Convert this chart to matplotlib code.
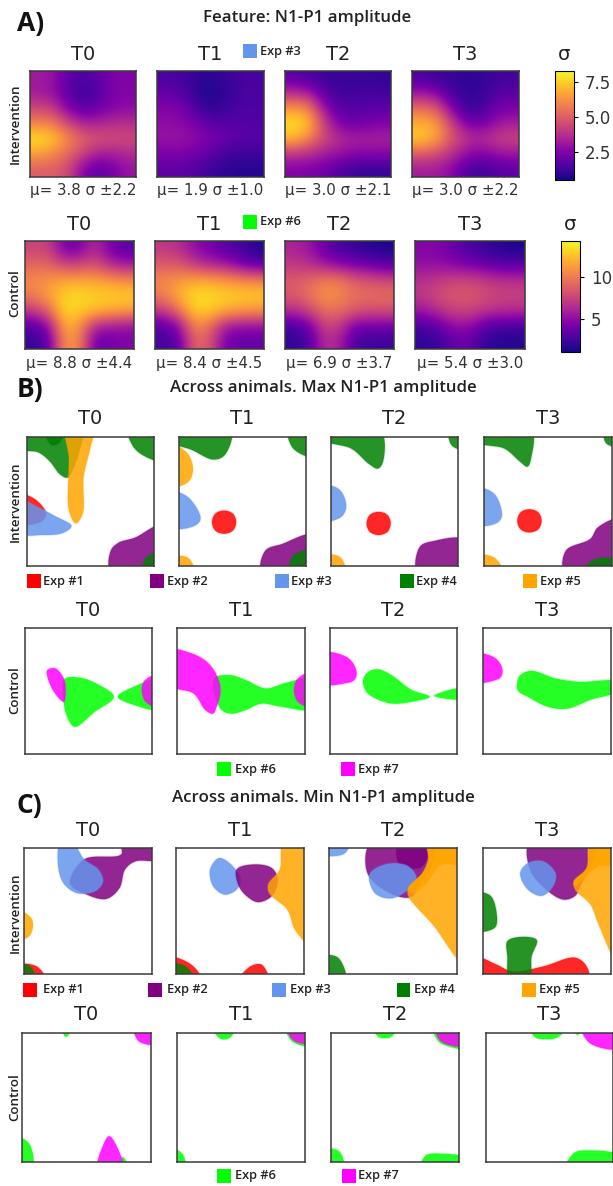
import matplotlib
matplotlib.use('Agg')
import matplotlib.pyplot as plt
import numpy as np
from matplotlib.patches import Polygon, Rectangle

W, H = 613, 1186

times = ['T0', 'T1', 'T2', 'T3']

# Panel A heatmaps, sigma on a coarse grid (rows top to bottom)
interv_t0 = [[3.2, 3.0, 1.8, 1.5, 1.8, 2.5, 2.5],
             [3.2, 3.0, 1.8, 1.2, 1.5, 2.5, 2.5],
             [4.5, 4.2, 2.5, 1.8, 2.2, 2.6, 2.8],
             [6.0, 6.0, 4.5, 3.5, 3.5, 3.8, 3.8],
             [8.0, 7.5, 6.2, 5.2, 4.8, 4.6, 4.5],
             [6.5, 6.0, 5.2, 4.2, 3.2, 3.2, 3.6],
             [5.0, 5.0, 4.5, 2.5, 1.8, 2.3, 3.0]]
interv_t1 = [[1.5, 1.4, 1.0, 0.9, 1.1, 1.4, 1.4],
             [2.0, 1.8, 1.0, 0.7, 1.0, 1.4, 1.5],
             [2.6, 2.4, 1.5, 0.9, 1.2, 1.5, 1.5],
             [2.8, 2.8, 2.4, 1.8, 1.7, 1.7, 1.6],
             [3.0, 3.0, 2.8, 2.5, 2.0, 1.8, 1.7],
             [2.4, 2.4, 2.2, 1.7, 1.3, 1.2, 1.2],
             [1.8, 1.8, 1.6, 1.2, 0.9, 0.8, 0.8]]
interv_t2 = [[1.8, 1.5, 1.2, 1.1, 1.1, 1.1, 1.0],
             [3.8, 3.5, 1.8, 1.3, 1.3, 1.4, 1.3],
             [6.5, 6.3, 3.2, 1.8, 1.6, 1.7, 1.8],
             [8.0, 7.5, 4.5, 2.5, 2.2, 2.4, 2.6],
             [7.0, 6.0, 4.5, 3.8, 3.4, 3.4, 3.4],
             [3.8, 3.6, 3.2, 3.0, 2.6, 2.6, 2.6],
             [2.5, 2.4, 2.2, 1.6, 1.2, 1.0, 1.1]]
interv_t3 = [[1.5, 1.2, 1.1, 1.0, 1.0, 1.2, 1.3],
             [3.2, 2.8, 1.5, 1.0, 1.1, 1.6, 1.8],
             [5.5, 5.2, 2.8, 1.2, 1.2, 2.2, 2.4],
             [7.0, 6.8, 4.6, 2.5, 2.3, 3.0, 3.4],
             [7.5, 6.8, 5.0, 4.0, 3.6, 4.2, 4.4],
             [4.8, 4.5, 3.8, 2.8, 2.4, 2.8, 3.0],
             [3.2, 3.2, 2.8, 1.6, 1.2, 1.6, 1.8]]
control_t0 = [[7.5, 7.5, 4.0, 4.0, 6.5, 4.0, 3.0],
              [9.0, 9.0, 7.5, 7.5, 8.0, 6.0, 5.5],
              [10.5, 11.0, 11.5, 11.5, 11.5, 11.0, 10.5],
              [10.0, 11.5, 13.0, 13.5, 13.0, 13.0, 13.0],
              [7.0, 9.0, 13.5, 13.0, 12.5, 12.0, 11.5],
              [3.0, 4.5, 12.0, 11.0, 6.0, 5.5, 5.0],
              [2.0, 3.0, 11.0, 10.5, 3.5, 4.0, 4.5]]
control_t1 = [[7.0, 6.5, 5.0, 4.0, 3.0, 2.5, 1.5],
              [8.5, 8.5, 7.0, 6.0, 5.5, 4.0, 3.0],
              [10.5, 11.0, 11.5, 11.5, 11.0, 10.5, 10.0],
              [10.0, 12.0, 13.5, 13.5, 13.0, 13.0, 13.0],
              [7.0, 9.5, 13.0, 13.0, 12.0, 11.5, 11.0],
              [3.0, 4.5, 10.5, 9.5, 5.5, 5.0, 5.0],
              [2.5, 3.0, 9.0, 8.5, 4.0, 3.5, 3.5]]
control_t2 = [[6.0, 5.5, 3.5, 2.5, 2.0, 1.5, 1.2],
              [7.0, 6.5, 5.5, 4.5, 4.0, 3.5, 3.0],
              [8.5, 9.0, 10.0, 10.0, 8.5, 8.0, 7.5],
              [8.5, 9.5, 11.0, 10.5, 9.5, 9.5, 9.5],
              [6.5, 7.5, 9.5, 9.5, 8.5, 8.0, 8.0],
              [2.5, 3.5, 7.5, 7.0, 4.0, 4.0, 4.0],
              [1.8, 2.5, 6.5, 6.0, 2.5, 2.2, 2.2]]
control_t3 = [[4.5, 4.5, 3.5, 2.5, 2.0, 1.5, 1.2],
              [5.0, 5.0, 4.5, 4.0, 3.5, 3.0, 3.0],
              [6.5, 7.0, 7.5, 7.5, 7.0, 6.5, 6.5],
              [7.0, 8.0, 8.5, 8.5, 8.0, 7.5, 7.5],
              [5.5, 6.5, 7.5, 7.5, 7.0, 6.5, 6.5],
              [2.5, 3.5, 5.0, 5.0, 3.0, 2.5, 2.5],
              [1.8, 2.0, 3.5, 3.5, 1.8, 1.5, 1.5]]

interv_stats = ['μ= 3.8 σ ±2.2', 'μ= 1.9 σ ±1.0', 'μ= 3.0 σ ±2.1', 'μ= 3.0 σ ±2.2']
control_stats = ['μ= 8.8 σ ±4.4', 'μ= 8.4 σ ±4.5', 'μ= 6.9 σ ±3.7', 'μ= 5.4 σ ±3.0']

# Panels B and C: region outlines per experiment, in percent of the electrode
# grid (x to the right, y down), drawn in order
max_interv_t0 = [
    (4, [(0, 0), (43, 0), (41.5, 10), (37, 23), (32, 31.5), (26, 29), (18, 19), (9, 12), (0, 9)]),
    (4, [(14, 0), (29, 0), (25, 5), (19, 6)]),
    (4, [(80, 0), (100, 0), (100, 18), (91, 14), (83, 6.5)]),
    (5, [(31, 0), (52, 0), (50, 8), (44.6, 31), (44, 59), (38.5, 67), (33, 57), (33, 15.5)]),
    (1, [(0, 45), (6, 48), (15, 59), (12, 65), (0, 67)]),
    (3, [(0, 49), (8, 54), (21.5, 61), (35, 69), (28, 74.5), (12, 76), (0, 74.5)]),
    (2, [(66, 100), (66, 88), (72, 82), (85, 78), (100, 69), (100, 100)]),
    (4, [(91, 100), (94, 93), (100, 90), (100, 100)]),
]
max_interv_t1 = [
    (4, [(0, 0), (41, 0), (36, 14), (27, 17.5), (10, 10), (0, 4)]),
    (4, [(86, 0), (100, 0), (100, 15), (90, 9)]),
    (5, [(0, 6.5), (7, 13), (11, 26), (7, 35), (0, 38)]),
    (3, [(0, 43), (7, 46.5), (17, 63), (13, 68.5), (0, 70)]),
    (1, [(35.5, 57), (42.5, 59.5), (45, 66), (42.5, 72.5), (35.5, 75), (28.5, 72.5), (26, 66), (28.5, 59.5)]),
    (2, [(65, 100), (68, 88), (81, 83), (100, 76), (100, 100)]),
    (4, [(87, 100), (90, 92), (100, 88), (100, 100)]),
    (5, [(0, 93.5), (7, 93.5), (12, 100), (0, 100)]),
]
max_interv_t2 = [
    (4, [(0, 0), (39, 0), (41, 19), (37, 24.5), (30, 21), (16, 9), (0, 2.5)]),
    (4, [(93, 0), (100, 0), (100, 9.5), (95, 6.5)]),
    (3, [(0, 38), (7, 41), (12, 54), (8, 62), (0, 64.5)]),
    (1, [(37.5, 58), (44.5, 60.5), (47, 67), (44.5, 73.5), (37.5, 76), (30.5, 73.5), (28, 67), (30.5, 60.5)]),
    (2, [(68, 100), (70, 85), (81, 80.6), (100, 79.6), (100, 100)]),
    (5, [(0, 92), (7, 93), (11.5, 100), (0, 100)]),
]
max_interv_t3 = [
    (4, [(0, 0), (37, 0), (37, 15.5), (34, 23), (28, 19), (16, 9), (0, 4)]),
    (4, [(94, 0), (100, 0), (100, 7), (95.5, 5)]),
    (3, [(0, 40), (8, 44), (14, 61), (10, 66.7), (0, 67.7)]),
    (1, [(35.5, 56), (42.5, 58.5), (45, 65), (42.5, 71.5), (35.5, 74), (28.5, 71.5), (26, 65), (28.5, 58.5)]),
    (2, [(63, 100), (64, 88), (83, 79), (89, 70), (100, 64), (100, 100)]),
    (4, [(77, 100), (86, 95), (100, 95.6), (100, 100)]),
    (5, [(0, 92), (8, 93.5), (15, 100), (0, 100)]),
]
max_control_t0 = [
    (6, [(31, 40.6), (42.5, 39.3), (56, 44), (70, 54.6), (55, 66.5), (39, 78.4), (33, 70), (30.5, 58.6)]),
    (6, [(73, 54.6), (85.5, 46.7), (100, 41.4), (100, 64), (85.5, 61)]),
    (7, [(17.5, 33.5), (23.7, 32), (30.5, 40), (32, 50.6), (30.5, 58.6), (23.7, 52), (18, 40)]),
    (7, [(100, 37.5), (94.5, 41.4), (92, 49), (95, 58.6), (100, 62.5)]),
]
max_control_t1 = [
    (6, [(29, 40), (42, 37.5), (54, 41.4), (69.4, 48), (85, 43.5), (100, 41), (100, 64), (81.6, 62.5),
         (66, 60), (54, 65), (42, 68), (34, 64)]),
    (7, [(0, 17.7), (11, 20), (23.5, 27), (31, 37.5), (34, 49), (31, 62.5), (28, 68), (22, 65), (13, 52), (0, 45.4)]),
    (7, [(100, 35.6), (94.5, 40), (91.4, 49), (94.5, 58.6), (100, 62.5)]),
]
max_control_t2 = [
    (7, [(0, 20), (10, 21.6), (17.5, 27), (21, 36), (19, 41.4), (11.4, 44), (0, 44)]),
    (6, [(26, 41.4), (30, 35), (37.5, 32.7), (48.6, 37.5), (64, 49), (78.5, 54.6),
         (64, 58.6), (48.6, 60), (36, 56), (28.6, 50.6)]),
    (6, [(82, 53.8), (100, 48), (100, 56)]),
]
max_control_t3 = [
    (7, [(0, 21), (9, 23.5), (15, 32), (14, 38.8), (7.6, 42), (0, 42.7)]),
    (6, [(26.6, 44), (29, 37.5), (38, 34), (56.6, 40), (75, 42.7), (100, 42.7), (100, 50), (84, 57),
         (66, 64), (50.5, 62.5), (35, 54.6), (27.5, 50)]),
]
min_interv_t0 = [
    (2, [(47, 9), (76, 5), (76, 0), (100, 0), (100, 9), (87, 10.6), (79, 17), (74.5, 32), (64, 40.5), (47, 36), (36, 28)]),
    (3, [(28.5, 0), (37.7, 0), (47, 9), (58, 17), (61.7, 26.5), (56, 34), (42, 36), (31.6, 29), (27, 17)]),
    (5, [(0, 49.5), (5.5, 55.5), (7, 62), (4, 70), (0, 73)]),
    (1, [(0, 93), (10, 94), (17, 100), (0, 100)]),
    (4, [(0, 93), (5, 94), (8, 100), (0, 100)]),
]
min_interv_t1 = [
    (3, [(26.6, 17), (33.6, 8), (43, 13), (50.5, 25), (47.4, 33), (38, 37), (29, 30.4)]),
    (2, [(47.4, 17), (61, 13), (75, 16), (79.5, 25), (75, 38), (64, 43), (55, 38), (49, 30)]),
    (5, [(84, 0), (100, 0), (100, 76.7), (93, 65), (87, 49), (73, 36), (72, 29), (81, 17)]),
    (1, [(0, 87), (12, 92.6), (20, 100), (0, 100)]),
    (4, [(0, 92.6), (7.6, 94), (14, 100), (0, 100)]),
    (1, [(49.5, 100), (58, 94), (67, 92.6), (72, 100)]),
]
min_interv_t2 = [
    (3, [(0, 0), (16, 0), (12, 4.5), (0, 5)]),
    (2, [(33, 0), (82, 0), (80, 14), (70, 30), (64, 39), (48, 36), (30, 20)]),
    (2, [(54.6, 0), (78, 0), (76, 10), (70, 16), (54.6, 12)]),
    (3, [(31.6, 21), (44, 13), (61, 14), (68.4, 24), (62, 33), (48.5, 40), (36, 36)]),
    (5, [(77.6, 0), (100, 0), (100, 91), (82, 62), (62, 38), (62, 32), (73, 20), (77.6, 9)]),
    (5, [(77.6, 0), (100, 0), (100, 13), (88, 13), (76, 28), (65, 36), (62, 32), (73, 20), (77.6, 9)]),
    (4, [(0, 86), (7, 87), (13, 100), (0, 100)]),
]
min_interv_t3 = [
    (2, [(36.7, 0), (88, 0), (87, 8), (77, 28), (72, 38), (63, 41), (50.5, 34), (36.7, 17)]),
    (3, [(29, 20), (35, 12), (47, 10.6), (56.6, 20), (55, 30), (46, 38), (35, 33)]),
    (5, [(84, 0), (100, 0), (100, 91), (90, 60), (84, 45), (72, 33), (71, 26.5), (81, 16)]),
    (5, [(84, 0), (100, 0), (100, 13), (90, 14.5), (78, 25), (72, 30), (71, 26.5), (81, 16)]),
    (4, [(0, 36), (6, 38), (11, 57), (9, 63.5), (0, 65.6)]),
    (1, [(0, 87), (10.7, 92.6), (23, 98), (47, 94), (72, 87), (81, 94), (82, 100), (0, 100)]),
    (4, [(19, 74), (29, 70.6), (42, 73), (38, 86), (36, 100), (21, 100), (19, 86)]),
]
min_control_t0 = [
    (6, [(32, 0), (36.6, 0), (36, 1.5), (34, 3), (32.5, 1.5)]),
    (7, [(87, 0), (100, 0), (100, 8.3), (90.6, 6.5)]),
    (6, [(0, 81), (5.5, 85.7), (8, 100), (0, 100)]),
    (6, [(78, 96), (83, 100), (78, 100)]),
    (7, [(59, 100), (62.5, 88), (67.6, 80), (73.5, 88), (78, 100)]),
]
min_control_t1 = [
    (6, [(28, 0), (46, 0), (42, 3), (36.6, 5), (32, 3)]),
    (6, [(85, 0), (100, 0), (100, 9.6), (90, 6.5)]),
    (7, [(86, 0), (100, 0), (100, 7.8), (91, 5.7)]),
    (6, [(0, 89.6), (4, 93.5), (6.4, 100), (0, 100)]),
]
min_control_t2 = [
    (6, [(33, 0), (52, 0), (47, 3), (42, 4), (37, 3)]),
    (6, [(80, 0), (100, 0), (100, 11.7), (92, 10.4), (84, 6.5)]),
    (7, [(82, 0), (100, 0), (100, 9.6), (86, 6.5)]),
    (6, [(0, 90), (6.7, 92), (9.7, 100), (0, 100)]),
    (6, [(70, 100), (74, 95), (86, 93.5), (100, 97), (100, 100)]),
]
min_control_t3 = [
    (6, [(34, 0), (64, 0), (56, 3.5), (46.6, 4.7), (39, 3.5)]),
    (6, [(68, 0), (76, 0), (72, 1.5)]),
    (7, [(75.5, 0), (100, 0), (100, 11.7), (81.6, 7.8)]),
    (6, [(63, 100), (69.4, 93), (81.6, 91), (100, 95), (100, 100)]),
    (6, [(0, 97.4), (3, 100), (0, 100)]),
]

exp_colors = {1: 'red', 2: 'purple', 3: 'cornflowerblue', 4: 'green', 5: 'orange', 6: 'lime', 7: 'magenta'}

plt.rcParams['font.family'] = 'DejaVu Sans'
fig = plt.figure(figsize=(W / 100, H / 100), dpi=100)


def add_box(x0, x1, y0, y1):
    # pixel box, y measured from the top
    return fig.add_axes([x0 / W, 1 - y1 / H, (x1 - x0) / W, (y1 - y0) / H])


def put(x, y, s, **kw):
    kw.setdefault('ha', 'center')
    kw.setdefault('va', 'center')
    fig.text(x / W, 1 - y / H, s, **kw)


def frame(ax):
    ax.set_xticks([])
    ax.set_yticks([])
    for sp in ax.spines.values():
        sp.set_color('#3a3a3a')
        sp.set_linewidth(1.1)


def smooth(points):
    # closed centripetal Catmull-Rom through the outline points;
    # points on the border are pushed out so the axes clip them
    p = np.array(points, dtype=float)
    p[p <= 0] = -5
    p[p >= 100] = 105
    out = []
    n = len(p)
    for i in range(n):
        p0, p1, p2, p3 = p[i - 1], p[i], p[(i + 1) % n], p[(i + 2) % n]
        t1 = np.hypot(*(p1 - p0)) ** 0.5
        t2 = t1 + np.hypot(*(p2 - p1)) ** 0.5
        t3 = t2 + np.hypot(*(p3 - p2)) ** 0.5
        for t in np.linspace(t1, t2, 12, endpoint=False):
            a1 = ((t1 - t) * p0 + t * p1) / t1
            a2 = ((t2 - t) * p1 + (t - t1) * p2) / (t2 - t1)
            a3 = ((t3 - t) * p2 + (t - t2) * p3) / (t3 - t2)
            b1 = ((t2 - t) * a1 + t * a2) / t2
            b2 = ((t3 - t) * a2 + (t - t1) * a3) / (t3 - t1)
            out.append(((t2 - t) * b1 + (t - t1) * b2) / (t2 - t1))
    return np.array(out)


def heat_row(grids, boxes, y0, y1, vmin, vmax, stats, stat_y):
    for grid, (x0, x1), name, st in zip(grids, boxes, times, stats):
        ax = add_box(x0, x1, y0, y1)
        im = ax.imshow(np.array(grid), cmap='plasma', vmin=vmin, vmax=vmax,
                       interpolation='bicubic', aspect='auto')
        frame(ax)
        put((x0 + x1) / 2, y0 - 17, name, fontsize=14, color='#222222')
        put((x0 + x1) / 2, stat_y, st, fontsize=10.8, color='#333333')
    return im


def blob_row(panels, boxes, y0, y1):
    for blobs, (x0, x1), name in zip(panels, boxes, times):
        ax = add_box(x0, x1, y0, y1)
        ax.set_xlim(0, 100)
        ax.set_ylim(100, 0)
        for exp, outline in blobs:
            shape = smooth(outline)
            ax.add_patch(Polygon(shape, closed=True, facecolor=exp_colors[exp], edgecolor='none', alpha=0.85))
            ax.add_patch(Polygon(shape, closed=True, fill=False, edgecolor=exp_colors[exp], linewidth=1.2, alpha=0.2))
        frame(ax)
        put((x0 + x1) / 2, y0 - 18, name, fontsize=14, color='#222222')


def exp_legend(exps, patch_x, text_x, y):
    for e, px, tx in zip(exps, patch_x, text_x):
        fig.add_artist(Rectangle((px / W, 1 - (y + 7) / H), 13.5 / W, 14 / H,
                                 transform=fig.transFigure, facecolor=exp_colors[e], edgecolor='none'))
        put(tx, y, 'Exp #%d' % e, ha='left', fontsize=9.2, family='Open Sans', weight='semibold', color='#222222')


def side_label(y, s):
    put(15, y, s, rotation=90, fontsize=9.6, family='Open Sans', weight='semibold', color='#222222')


def head(letter, y_letter, title, x_title, y_title):
    put(17, y_letter, letter, ha='left', fontsize=19, family='Open Sans', weight='bold', color='#111111')
    put(x_title, y_title, title, fontsize=12.2, family='Open Sans', weight='semibold', color='#222222')


# A
head('A)', 24, 'Feature: N1-P1 amplitude', 307, 18)
im1 = heat_row([interv_t0, interv_t1, interv_t2, interv_t3],
               [(30, 136), (157, 264), (285, 391), (412, 519)], 71, 177, 0.5, 8.3, interv_stats, 190)
cax = add_box(555, 574, 71, 180)
cb = fig.colorbar(im1, cax=cax, ticks=[2.5, 5.0, 7.5])
cb.ax.tick_params(labelsize=12, length=3, labelcolor='#333333', pad=5)
put(564, 54, 'σ', fontsize=14, color='#222222')
exp_legend([3], [243], [260], 51)
side_label(124, 'Intervention')

im2 = heat_row([control_t0, control_t1, control_t2, control_t3],
               [(25, 134), (155, 264), (285, 394), (415, 525)], 241, 349, 1.0, 14.3, control_stats, 363)
cax = add_box(561, 580, 241, 352)
cb = fig.colorbar(im2, cax=cax, ticks=[5, 10])
cb.ax.tick_params(labelsize=12, length=3, labelcolor='#333333', pad=5)
put(570, 224, 'σ', fontsize=14, color='#222222')
exp_legend([6], [243], [260], 222)
side_label(293, 'Control')

# B
head('B)', 390, 'Across animals. Max N1-P1 amplitude', 323, 388)
blob_row([max_interv_t0, max_interv_t1, max_interv_t2, max_interv_t3],
         [(27, 154), (179, 306), (331, 458), (484, 612)], 437, 566)
exp_legend([1, 2, 3, 4, 5], [27, 150, 275, 400, 523], [43, 167, 291, 416, 540], 581)
side_label(502, 'Intervention')

blob_row([max_control_t0, max_control_t1, max_control_t2, max_control_t3],
         [(25, 152), (177, 305), (330, 457), (483, 611)], 628, 754)
exp_legend([6, 7], [217, 341], [235, 358], 769)
side_label(690, 'Control')

# C
head('C)', 805, 'Across animals. Min N1-P1 amplitude', 323, 798)
blob_row([min_interv_t0, min_interv_t1, min_interv_t2, min_interv_t3],
         [(24, 152), (176, 304), (329, 457), (483, 611)], 848, 974)
exp_legend([1, 2, 3, 4, 5], [23, 148, 272, 397, 522], [43, 167, 290, 414, 539], 990)
side_label(913, 'Intervention')

blob_row([min_control_t0, min_control_t1, min_control_t2, min_control_t3],
         [(22, 151), (177, 305), (331, 459), (486, 613)], 1033, 1162)
exp_legend([6, 7], [217, 342], [235, 358], 1176)
side_label(1097, 'Control')

fig.savefig('out.png', dpi=100)
